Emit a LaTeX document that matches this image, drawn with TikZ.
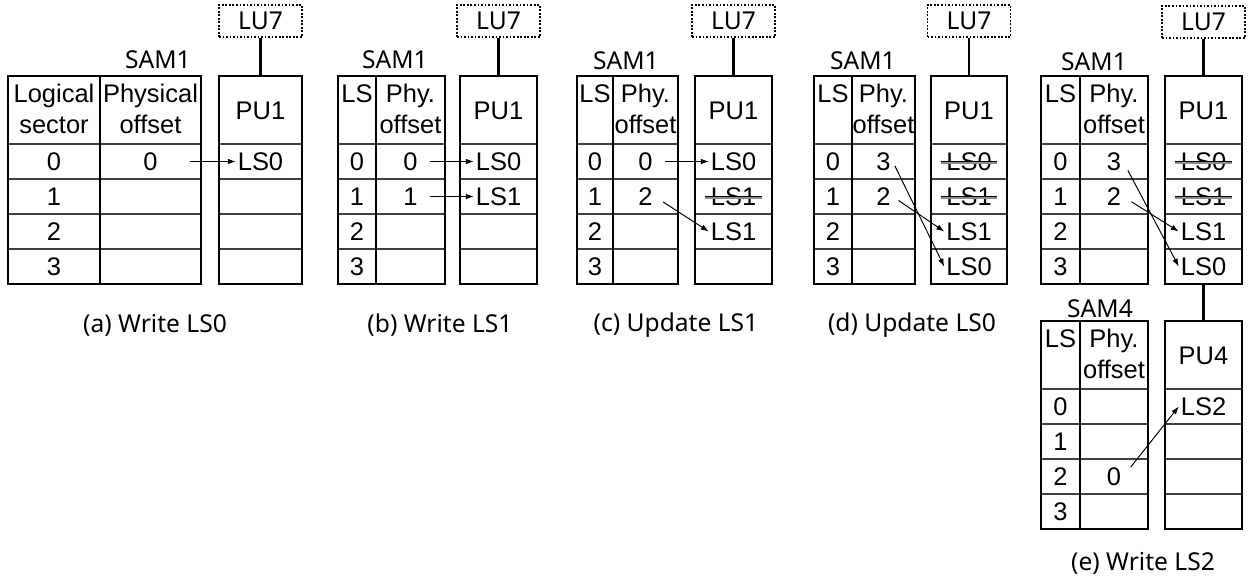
\documentclass[tikz,border=0pt]{standalone}
\usepackage{fontspec}
\setmainfont{Liberation Sans}
\newfontfamily\capfont{Noto Sans}
\usetikzlibrary{arrows.meta}
\pgfkeys{
  /sam/.cd,
  name/.initial=sam,
  left/.initial=0,
  split/.initial=38,
  right/.initial=107,
  top/.initial=76,
  head one/.initial=LS,
  head two/.initial={Phy.\\offset},
}
\pgfkeys{
  /pu/.cd,
  name/.initial=pu,
  left/.initial=0,
  right/.initial=77,
  top/.initial=76,
  title/.initial=PU1,
}
\makeatletter
% mapping table: header, 4 rows, index column
\newcommand{\samtable}[1][]{
  {
    \pgfkeys{
      /sam/.cd,
      #1,
      /sam/name/.get=\sam@name,
      /sam/left/.get=\sam@left,
      /sam/split/.get=\sam@split,
      /sam/right/.get=\sam@right,
      /sam/top/.get=\sam@top,
      /sam/head one/.get=\sam@headone,
      /sam/head two/.get=\sam@headtwo
    }
    \foreach \r in {0,...,3}
      \draw[rowline] (\sam@left,\sam@top+68+35*\r) -- (\sam@right,\sam@top+68+35*\r);
    \draw[tablebox] (\sam@left,\sam@top) rectangle (\sam@right,\sam@top+208);
    \draw[tablebox] (\sam@split,\sam@top) -- (\sam@split,\sam@top+208);
    \node[head] (\sam@name-h1) at ({(\sam@left+\sam@split)/2},\sam@top+8) {\sam@headone};
    \node[head] (\sam@name-h2) at ({(\sam@split+\sam@right)/2},\sam@top+8) {\sam@headtwo};
    \foreach \r in {0,...,3}{
      \node[cell] (\sam@name-i\r) at ({(\sam@left+\sam@split)/2},\sam@top+85.5+35*\r) {\r};
      \coordinate (\sam@name-v\r) at ({(\sam@split+\sam@right)/2},\sam@top+85.5+35*\r);
    }
  }
}
% physical unit: title and 4 slots
\newcommand{\pucolumn}[1][]{
  {
    \pgfkeys{
      /pu/.cd,
      #1,
      /pu/name/.get=\pu@name,
      /pu/left/.get=\pu@left,
      /pu/right/.get=\pu@right,
      /pu/top/.get=\pu@top,
      /pu/title/.get=\pu@title
    }
    \foreach \r in {0,...,3}
      \draw[rowline] (\pu@left,\pu@top+68+35*\r) -- (\pu@right,\pu@top+68+35*\r);
    \draw[tablebox] (\pu@left,\pu@top) rectangle (\pu@right,\pu@top+208);
    \node[cell] (\pu@name-t) at ({(\pu@left+\pu@right)/2},\pu@top+34) {\pu@title};
    \coordinate (\pu@name-top) at ({(\pu@left+\pu@right)/2},\pu@top);
    \coordinate (\pu@name-bot) at ({(\pu@left+\pu@right)/2},\pu@top+208);
    \foreach \r in {0,...,3}
      \coordinate (\pu@name-s\r) at ({(\pu@left+\pu@right)/2},\pu@top+85.5+35*\r);
  }
}
\makeatother
\newcommand{\strikeslot}[1]{
  \draw[strikeshade] ([yshift=-0.6pt]#1.west) -- ([yshift=-0.6pt]#1.east);
  \draw[strikeline] (#1.west) -- (#1.east);
}
\tikzset{
  tablebox/.style={line width=1.6pt},
  rowline/.style={line width=0.6pt,black!75},
  cell/.style={inner sep=1pt,text height=10.4pt,text depth=0pt},
  head/.style={anchor=north,inner sep=0pt,align=center},
  tag/.style={cell,font=\capfont\fontsize{14}{17}\selectfont},
  lubox/.style={draw,densely dotted,line width=1pt,minimum width=1.66cm,minimum height=0.64cm,inner sep=0pt,text height=10pt,text depth=0pt,font=\capfont\fontsize{14}{17}\selectfont},
  link/.style={line width=1.3pt},
  pointer/.style={-{Latex[length=4.5pt,width=3.2pt]},line width=0.55pt,shorten <=0.2cm},
  subcap/.style={font=\capfont\fontsize{14}{17}\selectfont},
  strikeshade/.style={line width=1.3pt,black!45,shorten <=-2pt,shorten >=-2pt},
  strikeline/.style={line width=0.5pt,shorten <=-2pt,shorten >=-2pt},
}

\begin{document}
\fontsize{14.5}{17.6}\selectfont
\begin{tikzpicture}[x=0.02cm,y=-0.02cm]
  \useasboundingbox (0,0) rectangle (1256,583);

  % (a) Write LS0
  \samtable[name=sa,left=8,split=100,right=201,head one={Logical\\sector},head two={Physical\\offset}]
  \pucolumn[name=pa,left=219,right=302]
  \node[tag] (sa-t) at (158,59) {SAM1};
  \node[lubox] (la) at (260.5,21) {LU7};
  \draw[link] (la) -- (pa-top);
  \node[cell] (sa-o0) at (sa-v0) {0};
  \node[cell] (pa-l0) at (pa-s0) {LS0};
  \draw[pointer,shorten <=0.6cm] (sa-o0.east) -- (pa-l0.west);
  \node[subcap] (cap-a) at (155,325) {(a) Write LS0};

  % (b) Write LS1
  \samtable[name=sb,left=338,split=376,right=445]
  \pucolumn[name=pb,left=460,right=537]
  \node[tag] (sb-t) at (395,59) {SAM1};
  \node[lubox] (lb) at (498.5,21) {LU7};
  \draw[link] (lb) -- (pb-top);
  \node[cell] (sb-o0) at (sb-v0) {0};
  \node[cell] (sb-o1) at (sb-v1) {1};
  \node[cell] (pb-l0) at (pb-s0) {LS0};
  \node[cell] (pb-l1) at (pb-s1) {LS1};
  \draw[pointer] (sb-o0.east) -- (pb-l0.west);
  \draw[pointer] (sb-o1.east) -- (pb-l1.west);
  \node[subcap] (cap-b) at (440,325) {(b) Write LS1};

  % (c) Update LS1
  \samtable[name=sc,left=577,split=613,right=678]
  \pucolumn[name=pc,left=695,right=772]
  \node[tag] (sc-t) at (626,60) {SAM1};
  \node[lubox] (lc) at (733.5,21) {LU7};
  \draw[link] (lc) -- (pc-top);
  \node[cell] (sc-o0) at (sc-v0) {0};
  \node[cell] (sc-o1) at (sc-v1) {2};
  \node[cell] (pc-l0) at (pc-s0) {LS0};
  \node[cell] (pc-l1) at (pc-s1) {LS1};
  \node[cell] (pc-l2) at (pc-s2) {LS1};
  \strikeslot{pc-l1}
  \draw[pointer] (sc-o0.east) -- (pc-l0.west);
  \draw[pointer] (sc-o1.east) -- (pc-l2.west);
  \node[subcap] (cap-c) at (676,325) {(c) Update LS1};

  % (d) Update LS0
  \samtable[name=sd,left=814,split=852,right=915]
  \pucolumn[name=pd,left=931,right=1007]
  \node[tag] (sd-t) at (863,60) {SAM1};
  \node[lubox] (ld) at (969,21) {LU7};
  \draw[link] (ld) -- (pd-top);
  \node[cell] (sd-o0) at (sd-v0) {3};
  \node[cell] (sd-o1) at (sd-v1) {2};
  \node[cell] (pd-l0) at (pd-s0) {LS0};
  \node[cell] (pd-l1) at (pd-s1) {LS1};
  \node[cell] (pd-l2) at (pd-s2) {LS1};
  \node[cell] (pd-l3) at (pd-s3) {LS0};
  \strikeslot{pd-l0}
  \strikeslot{pd-l1}
  \draw[pointer,shorten <=0.1cm] (sd-o0.east) -- (pd-l3.west);
  \draw[pointer,shorten <=0.14cm] (sd-o1.east) -- (pd-l2.west);
  \node[subcap] (cap-d) at (912,325) {(d) Update LS0};

  % (e) Write LS2
  \samtable[name=se,left=1041,split=1080,right=1148]
  \pucolumn[name=pe,left=1165,right=1242]
  \node[tag] (se-t) at (1094,61) {SAM1};
  \node[lubox] (le) at (1203.5,22) {LU7};
  \draw[link] (le) -- (pe-top);
  \node[cell] (se-o0) at (se-v0) {3};
  \node[cell] (se-o1) at (se-v1) {2};
  \node[cell] (pe-l0) at (pe-s0) {LS0};
  \node[cell] (pe-l1) at (pe-s1) {LS1};
  \node[cell] (pe-l2) at (pe-s2) {LS1};
  \node[cell] (pe-l3) at (pe-s3) {LS0};
  \strikeslot{pe-l0}
  \strikeslot{pe-l1}
  \draw[pointer] (se-o0.east) -- (pe-l3.west);
  \draw[pointer] (se-o1.east) -- (pe-l2.west);

  \samtable[name=sf,left=1041,split=1080,right=1148,top=321]
  \pucolumn[name=pf,left=1165,right=1242,top=321,title=PU4]
  \draw[link] (pe-bot) -- (pf-top);
  \node[tag] (sf-t) at (1100,308) {SAM4};
  \node[cell] (sf-o2) at (sf-v2) {0};
  \node[cell] (pf-l0) at (pf-s0) {LS2};
  \draw[pointer,shorten <=0.24cm] (sf-o2.east) -- (pf-l0.west);
  \node[subcap] (cap-e) at (1143,563) {(e) Write LS2};
\end{tikzpicture}
\end{document}
